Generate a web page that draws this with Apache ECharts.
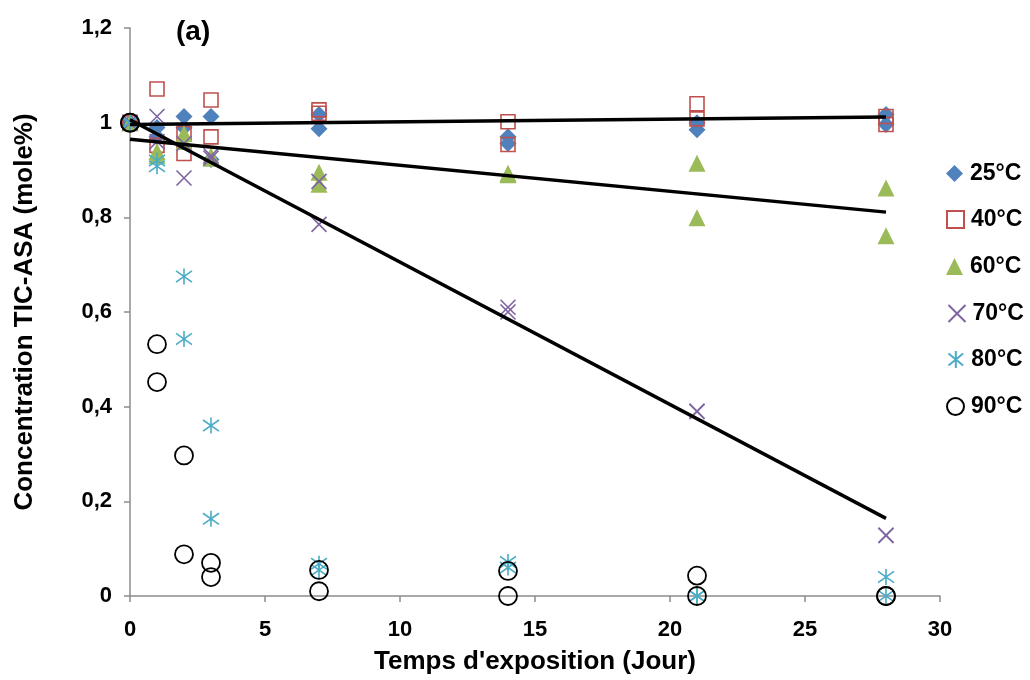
<!DOCTYPE html>
<html><head><meta charset="utf-8">
<script src="https://cdn.jsdelivr.net/npm/echarts@6/dist/echarts.min.js"></script>
<style>html,body{margin:0;padding:0;background:#fff}#c{width:1030px;height:680px}</style>
</head><body><div id="c"></div>
<script>
const days = [0, 1, 2, 3, 7, 14, 21, 28];
const seriesNames = ['25°C', '40°C', '60°C', '70°C', '80°C', '90°C'];
const t25a = [1, 0.99, 1.013, 1.013, 1.017, 0.97, 1.0, 1.017];
const t25b = [1, 0.97, 0.99, 0.922, 0.987, 0.956, 0.985, 0.996];
const t40a = [1, 1.071, 0.977, 1.048, 1.027, 1.002, 1.04, 1.013];
const t40b = [1, 0.952, 0.935, 0.97, 1.02, 0.954, 1.008, 0.996];
const t60a = [1, 0.939, 0.977, 0.93, 0.895, 0.893, 0.914, 0.862];
const t60b = [1, 0.93, 0.96, 0.925, 0.87, 0.89, 0.799, 0.761];
const t70a = [1, 1.013, 0.956, 0.93, 0.876, 0.61, 0.39, 0.128];
const t70b = [1, 0.96, 0.883, 0.925, 0.785, 0.60, 0.39, 0.128];
const t80a = [1, 0.908, 0.675, 0.36, 0.068, 0.072, 0, 0.04];
const t80b = [1, 0.92, 0.543, 0.163, 0.055, 0.06, 0, 0];
const t90a = [1, 0.532, 0.297, 0.07, 0.055, 0.053, 0.043, 0];
const t90b = [1, 0.452, 0.088, 0.04, 0.01, 0, 0, 0];
const trend25 = [[0, 0.996], [28, 1.012]];
const trend60 = [[0, 0.965], [28, 0.811]];
const trend70 = [[0, 1.006], [28, 0.164]];
const xTicks = [0, 5, 10, 15, 20, 25, 30];

function pairs(a, b) {
  const out = [];
  days.forEach((d, i) => { out.push([d, a[i]]); out.push([d, b[i]]); });
  return out;
}
const FONT = '"Liberation Sans", Arial, sans-serif';
const XPATH = 'path://M0,0L10,10M10,0L0,10';
const STAR = 'path://M5,0L5,10M0.7,1.5L9.3,8.5M9.3,1.5L0.7,8.5';

const styles = [
  {symbol: 'diamond', symbolSize: 17, itemStyle: {color: '#4F81BD', opacity: 1}},
  {symbol: 'rect', symbolSize: 14, itemStyle: {color: 'rgba(0,0,0,0)', borderColor: '#C0504D', borderWidth: 1.6, opacity: 1}},
  {symbol: 'triangle', symbolSize: 17, itemStyle: {color: '#9BBB59', opacity: 1}},
  {symbol: XPATH, symbolSize: 15, itemStyle: {color: 'none', borderColor: '#8064A2', borderWidth: 1.6, opacity: 1}},
  {symbol: STAR, symbolSize: 16, itemStyle: {color: 'none', borderColor: '#4BACC6', borderWidth: 1.6, opacity: 1}},
  {symbol: 'circle', symbolSize: 18, itemStyle: {color: 'rgba(0,0,0,0)', borderColor: '#000', borderWidth: 1.8, opacity: 1}}
];
const dataSets = [pairs(t25a, t25b), pairs(t40a, t40b), pairs(t60a, t60b), pairs(t70a, t70b), pairs(t80a, t80b), pairs(t90a, t90b)];

const series = seriesNames.map((n, i) => Object.assign({
  name: n, type: 'scatter', data: dataSets[i], z: 3 + i,
  emphasis: {disabled: true}
}, styles[i]));
[trend25, trend60, trend70].forEach(t => series.push({
  type: 'line', data: t, showSymbol: false, symbol: 'none', z: 10,
  lineStyle: {color: '#000', width: 3.4}, emphasis: {disabled: true}, silent: true
}));

const legendCenters = [172, 218, 265, 312, 358, 405];
const legends = seriesNames.map((n, i) => ({
  data: [n], orient: 'vertical', left: 941, top: legendCenters[i] - 15,
  itemWidth: 17, itemHeight: 17, itemGap: 0, selectedMode: false,
  textStyle: {fontFamily: FONT, fontWeight: 'bold', fontSize: 23, color: '#000', padding: [0, 0, 0, 2]}
}));

const chart = echarts.init(document.getElementById('c'));
chart.setOption({
  animation: false,
  backgroundColor: '#fff',
  graphic: [{type: 'text', left: 176, top: 18, style: {text: '(a)', font: 'bold 28px ' + FONT, fill: '#000'}}],
  grid: {left: 130, right: 90, top: 28, bottom: 82, containLabel: false},
  legend: legends,
  xAxis: {
    type: 'value', min: 0, max: 30, interval: 5,
    name: "Temps d'exposition (Jour)", nameLocation: 'middle', nameGap: 53,
    nameTextStyle: {fontFamily: FONT, fontWeight: 'bold', fontSize: 26, color: '#000'},
    axisLine: {onZero: false, lineStyle: {color: '#8c8c8c', width: 1.5}},
    axisTick: {show: true, inside: false, length: 6, lineStyle: {color: '#8c8c8c', width: 1.5}},
    axisLabel: {fontFamily: FONT, fontWeight: 'bold', fontSize: 22, color: '#000', margin: 23,
      formatter: v => xTicks.includes(v) ? String(v) : ''},
    splitLine: {show: false}
  },
  yAxis: {
    type: 'value', min: 0, max: 1.2, interval: 0.2,
    name: 'Concentration TIC-ASA (mole%)', nameLocation: 'middle', nameGap: 92,
    nameTextStyle: {fontFamily: FONT, fontWeight: 'bold', fontSize: 26, color: '#000'},
    axisLine: {show: true, lineStyle: {color: '#8c8c8c', width: 1.5}},
    axisTick: {show: true, inside: false, length: 6, lineStyle: {color: '#8c8c8c', width: 1.5}},
    axisLabel: {fontFamily: FONT, fontWeight: 'bold', fontSize: 22, color: '#000', margin: 18,
      formatter: v => String(+v.toFixed(1)).replace('.', ',')},
    splitLine: {show: false}
  },
  series: series
});
</script></body></html>
